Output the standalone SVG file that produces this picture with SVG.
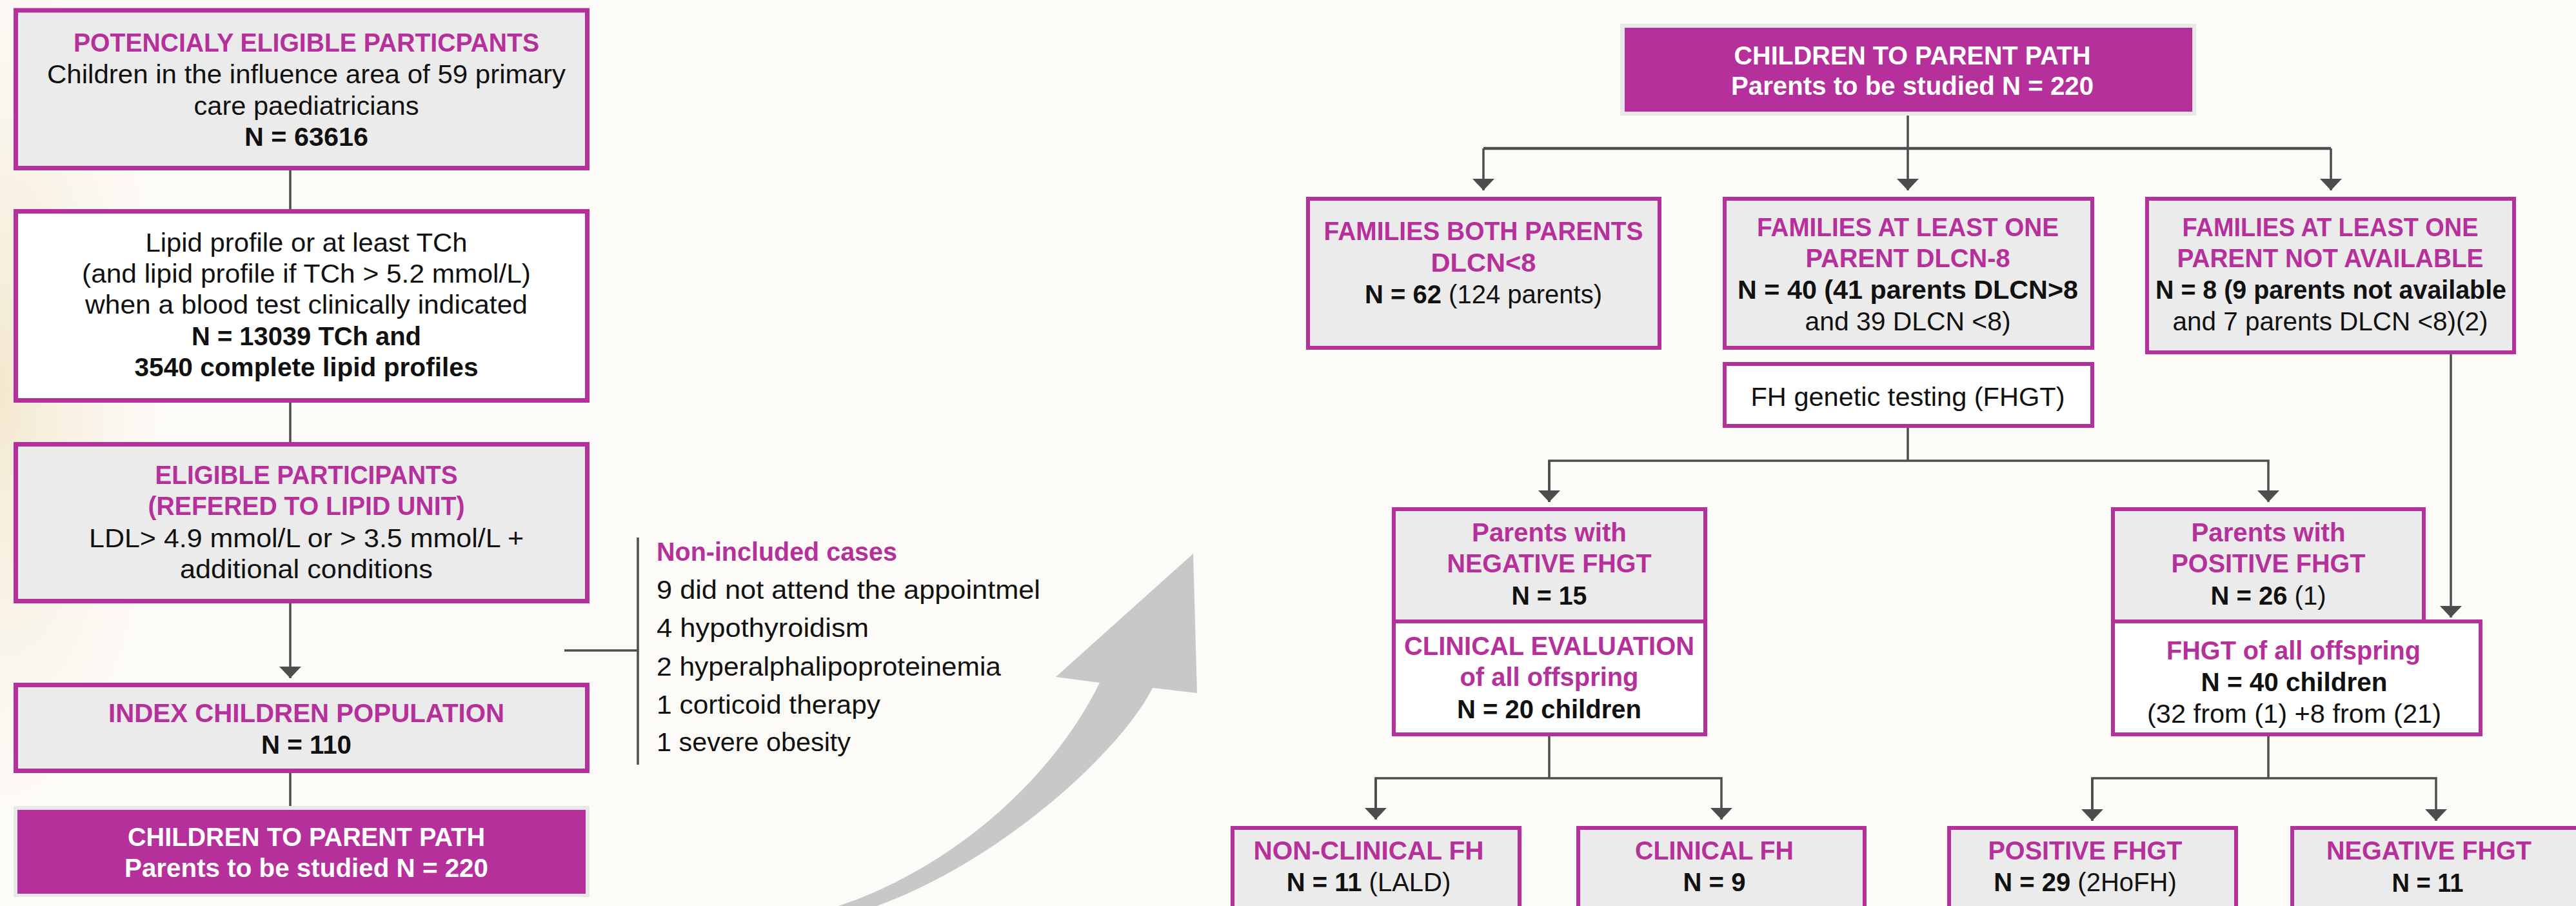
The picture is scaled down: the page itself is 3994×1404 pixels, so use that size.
<svg xmlns="http://www.w3.org/2000/svg" width="3994" height="1404" viewBox="0 0 3994 1404">
<defs>
<style>
text{font-family:"Liberation Sans",Arial,sans-serif;font-size:40px;text-anchor:middle;fill:#111}
.b{font-weight:bold}
.p{fill:#b5309a;font-weight:bold}
.w{fill:#fff;font-weight:bold}
.l{text-anchor:start}
.lbox{stroke:#b5309a;stroke-width:7}
.rbox{stroke:#b5309a;stroke-width:6}
.g{fill:#ebebeb}
.wh{fill:#fff}
.con{fill:none;stroke:#4d4d4d;stroke-width:3.5}
</style>
<marker id="ah" markerUnits="userSpaceOnUse" markerWidth="18" markerHeight="34" viewBox="0 0 18 34" refX="18" refY="17" orient="auto">
<path d="M0,0 L18,17 L0,34 Z" fill="#4d4d4d"/>
</marker>
<radialGradient id="bg" gradientUnits="userSpaceOnUse" cx="0" cy="0" r="300" gradientTransform="translate(0,600) scale(1,2.6)">
<stop offset="0" stop-color="#f2e6c9" stop-opacity="0.9"/>
<stop offset="0.5" stop-color="#f7efde" stop-opacity="0.55"/>
<stop offset="1" stop-color="#fdfbf8" stop-opacity="0"/>
</radialGradient>
</defs>
<rect width="3994" height="1404" fill="#fdfbf8"/>
<rect width="3994" height="1404" fill="url(#bg)"/>

<path id="big-arrow" d="M1300 1404 C1450 1355 1620 1230 1705 1058 L1637 1049 L1850 858 L1856 1074 L1787 1066 C1740 1160 1560 1330 1360 1404 Z" fill="#c8c8c8"/>

<g id="connectors">
<line class="con" x1="450" y1="264" x2="450" y2="324"/>
<line class="con" x1="450" y1="624" x2="450" y2="685"/>
<line class="con" x1="450" y1="935" x2="450" y2="1051" marker-end="url(#ah)"/>
<line class="con" x1="450" y1="1198" x2="450" y2="1249"/>
<polyline class="con" points="875,1008 989,1008"/>
<line class="con" x1="989" y1="833" x2="989" y2="1185"/>
<line class="con" x1="2958" y1="173" x2="2958" y2="295" marker-end="url(#ah)"/>
<line class="con" x1="2300" y1="230" x2="3614" y2="230" style="stroke-width:4.5"/>
<line class="con" x1="2300" y1="230" x2="2300" y2="295" marker-end="url(#ah)"/>
<line class="con" x1="3614" y1="230" x2="3614" y2="295" marker-end="url(#ah)"/>
<line class="con" x1="3800" y1="549" x2="3800" y2="957" marker-end="url(#ah)"/>
<line class="con" x1="2958" y1="663" x2="2958" y2="714"/>
<polyline class="con" points="2402,778 2402,714 3517,714 3517,778" style="marker-end:url(#ah)"/>
<line class="con" x1="2402" y1="714" x2="2402" y2="778" marker-end="url(#ah)"/>
<line class="con" x1="2402" y1="1141" x2="2402" y2="1206"/>
<polyline class="con" points="2133,1270 2133,1206 2669,1206 2669,1270" style="marker-end:url(#ah)"/>
<line class="con" x1="2133" y1="1206" x2="2133" y2="1270" marker-end="url(#ah)"/>
<line class="con" x1="3517" y1="1141" x2="3517" y2="1206"/>
<polyline class="con" points="3244,1272 3244,1206 3777,1206 3777,1272" style="marker-end:url(#ah)"/>
<line class="con" x1="3244" y1="1206" x2="3244" y2="1272" marker-end="url(#ah)"/>
</g>

<g id="potentially-eligible">
<rect class="lbox g" x="24.5" y="16" width="886" height="244.5"/>
<text class="p" x="475" y="80" textLength="722" lengthAdjust="spacingAndGlyphs">POTENCIALY ELIGIBLE PARTICPANTS</text>
<text x="475" y="129" textLength="804" lengthAdjust="spacingAndGlyphs">Children in the influence area of 59 primary</text>
<text x="475" y="178" textLength="349" lengthAdjust="spacingAndGlyphs">care paediatricians</text>
<text class="b" x="475" y="226" textLength="192" lengthAdjust="spacingAndGlyphs">N = 63616</text>
</g>

<g id="lipid-profile">
<rect class="lbox wh" x="24.5" y="327.5" width="886" height="293"/>
<text x="475" y="390" textLength="499" lengthAdjust="spacingAndGlyphs">Lipid profile or at least TCh</text>
<text x="475" y="438" textLength="696" lengthAdjust="spacingAndGlyphs">(and lipid profile if TCh &gt; 5.2 mmol/L)</text>
<text x="475" y="486" textLength="686" lengthAdjust="spacingAndGlyphs">when a blood test clinically indicated</text>
<text class="b" x="475" y="535" textLength="356" lengthAdjust="spacingAndGlyphs">N = 13039 TCh and</text>
<text class="b" x="475" y="583" textLength="533" lengthAdjust="spacingAndGlyphs">3540 complete lipid profiles</text>
</g>

<g id="eligible">
<rect class="lbox g" x="24.5" y="688.5" width="886" height="243"/>
<text class="p" x="475" y="750" textLength="469" lengthAdjust="spacingAndGlyphs">ELIGIBLE PARTICIPANTS</text>
<text class="p" x="475" y="798" textLength="491" lengthAdjust="spacingAndGlyphs">(REFERED TO LIPID UNIT)</text>
<text x="475" y="848" textLength="674" lengthAdjust="spacingAndGlyphs">LDL&gt; 4.9 mmol/L or &gt; 3.5 mmol/L +</text>
<text x="475" y="896" textLength="392" lengthAdjust="spacingAndGlyphs">additional conditions</text>
</g>

<g id="index-children">
<rect class="lbox g" x="24.5" y="1061.5" width="886" height="133"/>
<text class="p" x="475" y="1119" textLength="614" lengthAdjust="spacingAndGlyphs">INDEX CHILDREN POPULATION</text>
<text class="b" x="475" y="1168" textLength="140" lengthAdjust="spacingAndGlyphs">N = 110</text>
</g>

<g id="children-to-parent-left">
<rect x="21" y="1249" width="893" height="141" fill="#e8e8e8"/>
<rect x="27" y="1255" width="881" height="130" fill="#b5309a"/>
<text class="w" x="475" y="1311" textLength="554" lengthAdjust="spacingAndGlyphs">CHILDREN TO PARENT PATH</text>
<text class="w" x="475" y="1359" textLength="564" lengthAdjust="spacingAndGlyphs">Parents to be studied N = 220</text>
</g>

<g id="non-included">
<text class="p l" x="1018" y="869" textLength="373" lengthAdjust="spacingAndGlyphs">Non-included cases</text>
<text class="l" x="1018" y="928" textLength="595" lengthAdjust="spacingAndGlyphs">9 did not attend the appointmel</text>
<text class="l" x="1018" y="987" textLength="329" lengthAdjust="spacingAndGlyphs">4 hypothyroidism</text>
<text class="l" x="1018" y="1047" textLength="534" lengthAdjust="spacingAndGlyphs">2 hyperalphalipoproteinemia</text>
<text class="l" x="1018" y="1106" textLength="347" lengthAdjust="spacingAndGlyphs">1 corticoid therapy</text>
<text class="l" x="1018" y="1164" textLength="301" lengthAdjust="spacingAndGlyphs">1 severe obesity</text>
</g>

<g id="children-to-parent-top">
<rect x="2512" y="37" width="893" height="142" fill="#e8e8e8"/>
<rect x="2519" y="43" width="880" height="130" fill="#b5309a"/>
<text class="w" x="2965" y="100" textLength="553" lengthAdjust="spacingAndGlyphs">CHILDREN TO PARENT PATH</text>
<text class="w" x="2965" y="147" textLength="562" lengthAdjust="spacingAndGlyphs">Parents to be studied N = 220</text>
</g>

<g id="families-both">
<rect class="rbox g" x="2028" y="308" width="545" height="231"/>
<text class="p" x="2300" y="372" textLength="495" lengthAdjust="spacingAndGlyphs">FAMILIES BOTH PARENTS</text>
<text class="p" x="2300" y="421" textLength="163" lengthAdjust="spacingAndGlyphs">DLCN&lt;8</text>
<text x="2300" y="470"><tspan class="b">N = 62</tspan> (124 parents)</text>
</g>

<g id="families-dlcn8">
<rect class="rbox g" x="2674" y="308" width="570" height="231"/>
<text class="p" x="2958" y="366" textLength="468" lengthAdjust="spacingAndGlyphs">FAMILIES AT LEAST ONE</text>
<text class="p" x="2958" y="414" textLength="317" lengthAdjust="spacingAndGlyphs">PARENT DLCN-8</text>
<text class="b" x="2958" y="463" textLength="528" lengthAdjust="spacingAndGlyphs">N = 40 (41 parents DLCN&gt;8</text>
<text x="2958" y="512" textLength="319" lengthAdjust="spacingAndGlyphs">and 39 DLCN &lt;8)</text>
</g>

<g id="families-not-available">
<rect class="rbox g" x="3329" y="308" width="569" height="238"/>
<text class="p" x="3613" y="366" textLength="459" lengthAdjust="spacingAndGlyphs">FAMILIES AT LEAST ONE</text>
<text class="p" x="3613" y="414" textLength="475" lengthAdjust="spacingAndGlyphs">PARENT NOT AVAILABLE</text>
<text class="b" x="3614" y="463" textLength="544" lengthAdjust="spacingAndGlyphs">N = 8 (9 parents not available</text>
<text x="3613" y="512" textLength="489" lengthAdjust="spacingAndGlyphs">and 7 parents DLCN &lt;8)(2)</text>
</g>

<g id="fh-genetic-testing">
<rect class="rbox wh" x="2674" y="564" width="570" height="96"/>
<text x="2958" y="629" textLength="487" lengthAdjust="spacingAndGlyphs">FH genetic testing (FHGT)</text>
</g>

<g id="negative-parents">
<rect class="g" x="2161" y="789" width="483" height="174"/>
<rect class="wh" x="2161" y="963" width="483" height="175"/>
<rect class="rbox" fill="none" x="2161" y="789" width="483" height="349"/>
<line x1="2161" y1="963" x2="2644" y2="963" stroke="#b5309a" stroke-width="6"/>
<text class="p" x="2402" y="839" textLength="240" lengthAdjust="spacingAndGlyphs">Parents with</text>
<text class="p" x="2402" y="887" textLength="317" lengthAdjust="spacingAndGlyphs">NEGATIVE FHGT</text>
<text class="b" x="2402" y="937" textLength="117" lengthAdjust="spacingAndGlyphs">N = 15</text>
<text class="p" x="2402" y="1015" textLength="450" lengthAdjust="spacingAndGlyphs">CLINICAL EVALUATION</text>
<text class="p" x="2402" y="1063" textLength="277" lengthAdjust="spacingAndGlyphs">of all offspring</text>
<text class="b" x="2402" y="1113" textLength="286" lengthAdjust="spacingAndGlyphs">N = 20 children</text>
</g>

<g id="positive-parents">
<rect class="rbox g" x="3276" y="789" width="482" height="174"/>
<rect class="rbox wh" x="3276" y="963" width="570" height="175"/>
<text class="p" x="3517" y="839" textLength="239" lengthAdjust="spacingAndGlyphs">Parents with</text>
<text class="p" x="3517" y="887" textLength="301" lengthAdjust="spacingAndGlyphs">POSITIVE FHGT</text>
<text x="3517" y="937"><tspan class="b">N = 26</tspan> (1)</text>
<text class="p" x="3556" y="1022" textLength="394" lengthAdjust="spacingAndGlyphs">FHGT of all offspring</text>
<text class="b" x="3557" y="1071" textLength="289" lengthAdjust="spacingAndGlyphs">N = 40 children</text>
<text x="3557" y="1120" textLength="456" lengthAdjust="spacingAndGlyphs">(32 from (1) +8 from (21)</text>
</g>

<g id="non-clinical-fh">
<rect class="rbox g" x="1911" y="1283" width="445" height="200"/>
<text class="p" x="2122" y="1332" textLength="357" lengthAdjust="spacingAndGlyphs">NON-CLINICAL FH</text>
<text x="2122" y="1381"><tspan class="b">N = 11</tspan> (LALD)</text>
</g>

<g id="clinical-fh">
<rect class="rbox g" x="2447" y="1283" width="444" height="200"/>
<text class="p" x="2658" y="1332" textLength="246" lengthAdjust="spacingAndGlyphs">CLINICAL FH</text>
<text class="b" x="2658" y="1381" textLength="97" lengthAdjust="spacingAndGlyphs">N = 9</text>
</g>

<g id="positive-fhgt">
<rect class="rbox g" x="3022" y="1283" width="445" height="200"/>
<text class="p" x="3233" y="1332" textLength="301" lengthAdjust="spacingAndGlyphs">POSITIVE FHGT</text>
<text x="3233" y="1381"><tspan class="b">N = 29</tspan> (2HoFH)</text>
</g>

<g id="negative-fhgt">
<rect class="rbox g" x="3554" y="1283" width="445" height="200"/>
<text class="p" x="3766" y="1332" textLength="318" lengthAdjust="spacingAndGlyphs">NEGATIVE FHGT</text>
<text class="b" x="3764" y="1382" textLength="111" lengthAdjust="spacingAndGlyphs">N = 11</text>
</g>
</svg>
